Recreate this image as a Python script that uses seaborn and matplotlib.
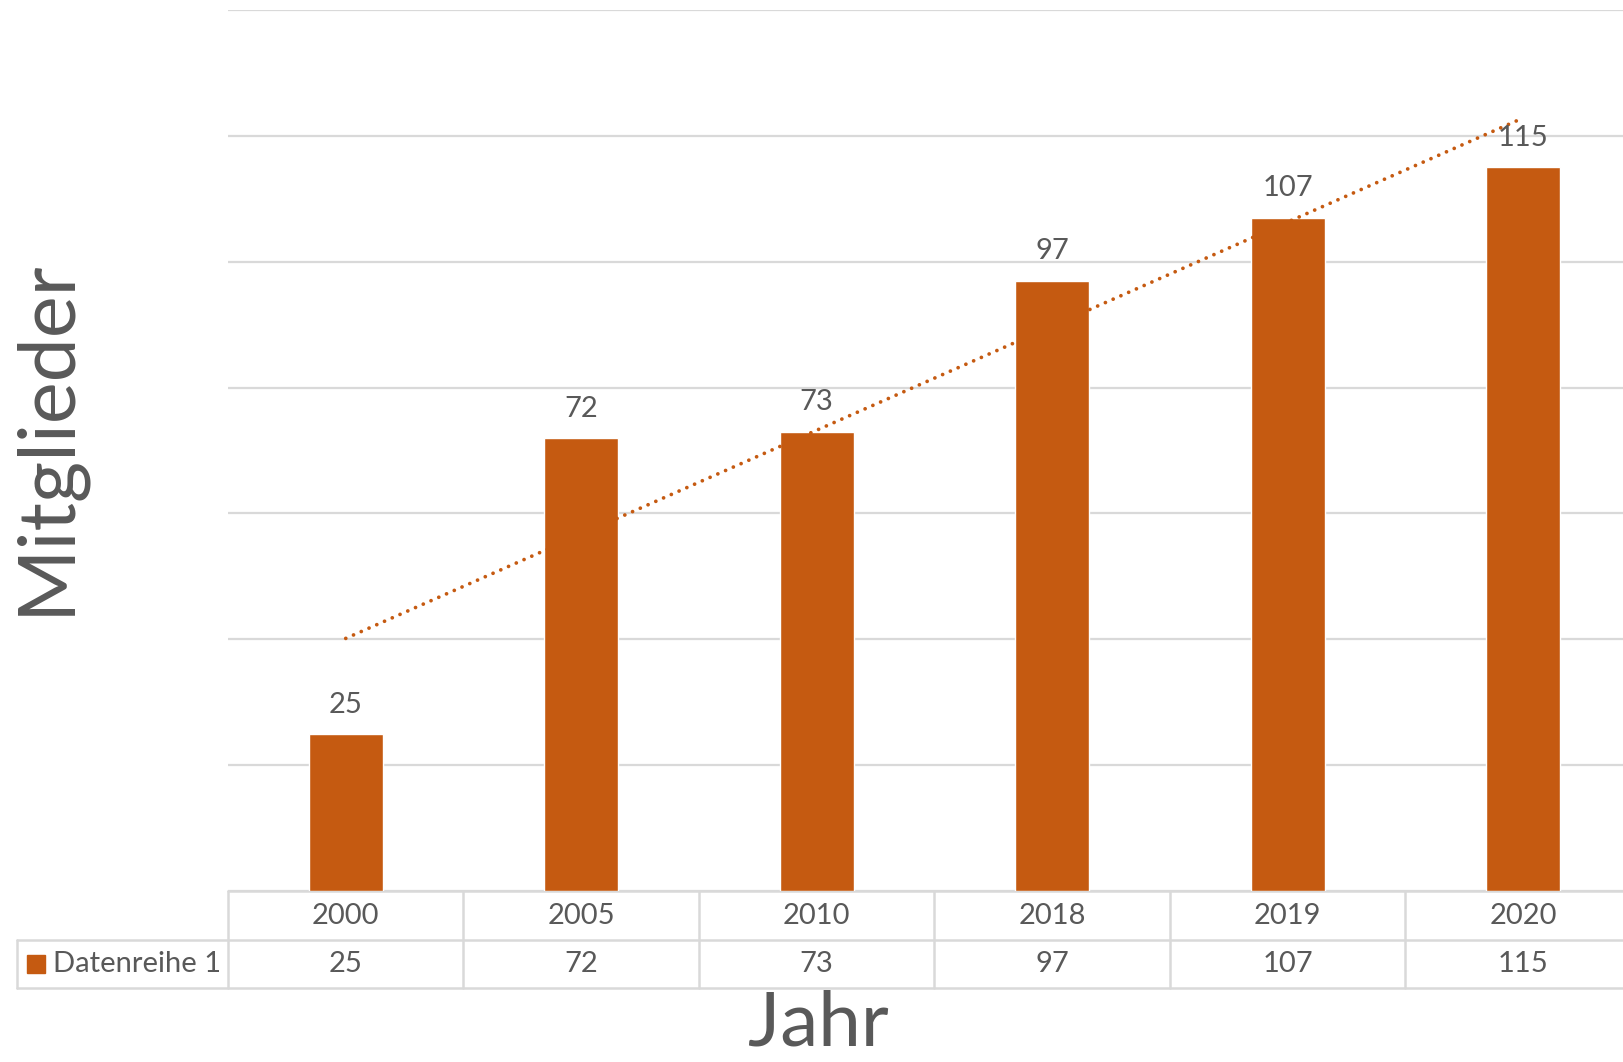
import numpy as np
import pandas as pd
import matplotlib
matplotlib.use('Agg')
import matplotlib.pyplot as plt
import matplotlib.transforms as mtrans
import seaborn as sns

# chart data
years = ['2000', '2005', '2010', '2018', '2019', '2020']
members = [25, 72, 73, 97, 107, 115]
series_name = 'Datenreihe 1'
x_title = 'Jahr'
y_title = 'Mitglieder'

bar_color = '#C55A11'
text_color = '#595959'
grid_color = '#D9D9D9'

sns.set_theme(style='white')
plt.rcParams['font.family'] = ['Lato', 'DejaVu Sans']

W, H = 1624, 1062
fig = plt.figure(figsize=(W / 100, H / 100), dpi=100)

# plot area in pixels (from the reference): x 228..1641, y 10..891
def fx(px):
    return px / W

def fy(py):
    return 1 - py / H

ax = fig.add_axes([fx(228), fy(891), fx(1641) - fx(228), (891 - 10) / H])

df = pd.DataFrame({'Jahr': years, 'Mitglieder': members})
sns.barplot(data=df, x='Jahr', y='Mitglieder', color=bar_color, saturation=1,
            width=0.314, ax=ax, zorder=3)

# linear trendline (Excel style, round dots)
pos = np.arange(len(years))
sns.regplot(x=pos, y=np.array(members, dtype=float), scatter=False, ci=None,
            truncate=True, ax=ax,
            line_kws=dict(color=bar_color, lw=2.7, linestyle=(0, (0.01, 2.25)),
                          dash_capstyle='round', zorder=4))

ax.set_xlim(-0.5, len(years) - 0.5)
ax.set_ylim(0, 140)
ax.set_yticks(np.arange(0, 141, 20))
ax.yaxis.grid(True, color=grid_color, lw=1.6, zorder=0)
ax.set_axisbelow(True)
ax.set_yticklabels([])
ax.set_xticks([])
ax.set_xlabel('')
ax.set_ylabel('')
for s in ax.spines.values():
    s.set_visible(False)

# data labels
for i, v in enumerate(members):
    ax.annotate(str(v), (i, v), xytext=(0, 21), textcoords='offset points',
                ha='center', va='center', fontsize=21, color=text_color, zorder=5)

# data table below the plot
tr = mtrans.blended_transform_factory(ax.transData, fig.transFigure)
line_kw = dict(color=grid_color, lw=1.8, clip_on=False, zorder=1)
right = len(years) - 0.5
# horizontal lines
ax.plot([-0.5, right], [fy(891), fy(891)], transform=tr, **line_kw)
for yy in (940, 988):
    ax.add_line(plt.Line2D([fx(17), 1.0], [fy(yy), fy(yy)],
                           transform=fig.transFigure, **line_kw))
# vertical lines
for k in range(len(years) + 1):
    ax.plot([k - 0.5, k - 0.5], [fy(891), fy(988)], transform=tr, **line_kw)
ax.add_line(plt.Line2D([fx(17), fx(17)], [fy(940), fy(988)],
                       transform=fig.transFigure, **line_kw))

for i, (yr, v) in enumerate(zip(years, members)):
    ax.text(i, fy(916), yr, transform=tr, ha='center', va='center',
            fontsize=21, color=text_color)
    ax.text(i, fy(964), str(v), transform=tr, ha='center', va='center',
            fontsize=21, color=text_color)

# legend key in table
fig.patches.append(plt.Rectangle((fx(27), fy(973)), fx(18), 18 / H,
                                 transform=fig.transFigure, color=bar_color))
fig.text(fx(53), fy(964), series_name, ha='left', va='center',
         fontsize=21, color=text_color)

# axis titles
fig.text(fx(818), fy(1024), x_title, ha='center', va='center',
         fontsize=55, color=text_color)
fig.text(fx(47), fy(437), y_title, ha='center', va='center', rotation=90,
         fontsize=57, color=text_color)

fig.savefig('out.png', dpi=100)
